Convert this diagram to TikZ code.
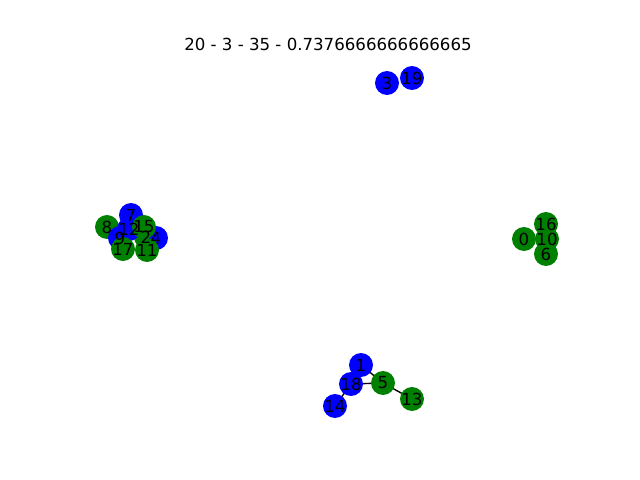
\documentclass[tikz,border=0pt]{standalone}
\usepackage{fontspec}
\setmainfont{DejaVu Sans}
\definecolor{nxgreen}{RGB}{0,128,0}
\definecolor{nxblue}{RGB}{0,0,255}

\begin{document}
\begin{tikzpicture}[
    x=0.01in, y=-0.01in,
    dot/.style={circle, inner sep=0pt, minimum size=17.3pt},
    lbl/.style={inner sep=0pt, font=\fontsize{12}{14}\selectfont},
    link/.style={black, line width=1pt}
]
    \useasboundingbox (0,0) rectangle (640,480);
    \node[lbl] (title) at (328,44) {20 - 3 - 35 - 0.7376666666666665};

    % positions of the graph nodes
    \foreach \i/\x/\y in {0/524/239, 1/361/365, 2/146/237, 3/387/83, 4/156/238,
        5/383/383, 6/546/254, 7/131/215, 8/107/227, 9/120/238, 10/547/239,
        11/147/250, 12/129/229, 13/412/399, 14/335/406, 15/144/227, 16/546/224,
        17/123/249, 18/351/384, 19/412/78}
        \coordinate (c\i) at (\x,\y);

    % edges
    \draw[link] (c1) -- (c5);
    \draw[link] (c18) -- (c5);
    \draw[link] (c5) -- (c13);
    \draw[link] (c14) -- (c18);
    \draw[link] (c0) -- (c10);
    \draw[link] (c12) -- (c2);

    % circles, then labels on top
    \foreach \i/\c in {0/nxgreen, 1/nxblue, 2/nxgreen, 3/nxblue, 4/nxblue,
        5/nxgreen, 6/nxgreen, 7/nxblue, 8/nxgreen, 9/nxblue, 10/nxgreen,
        11/nxgreen, 12/nxblue, 13/nxgreen, 14/nxblue, 15/nxgreen, 16/nxgreen,
        17/nxgreen, 18/nxblue, 19/nxblue}
        \node[dot, fill=\c] (n\i) at (c\i) {};
    \foreach \i in {0,...,19}
        \node[lbl] (l\i) at (c\i) {\i};
\end{tikzpicture}
\end{document}
